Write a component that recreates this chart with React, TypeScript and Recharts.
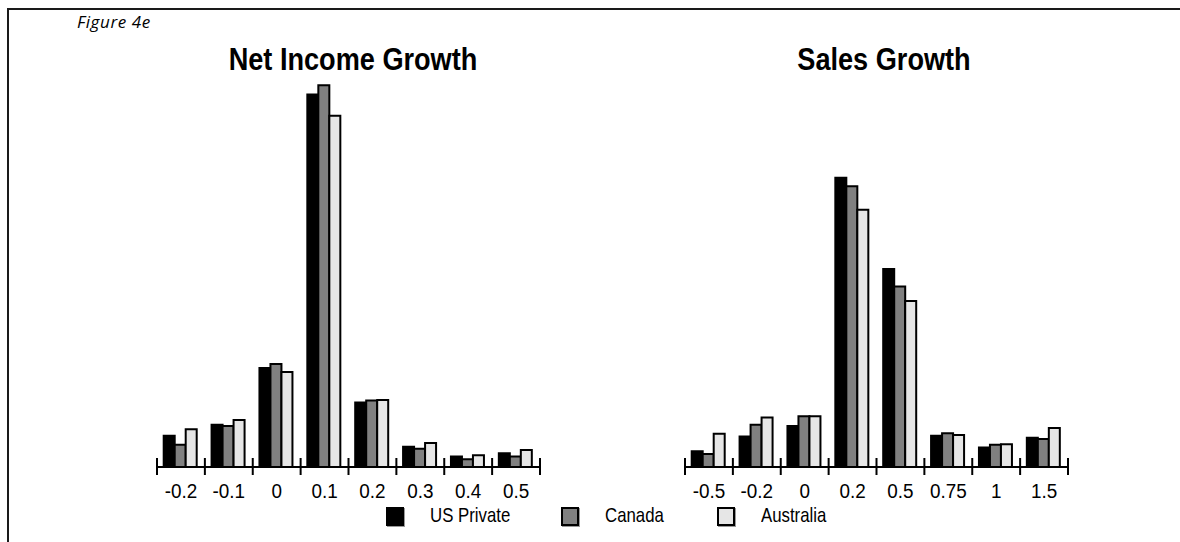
import { BarChart, Bar, XAxis, YAxis } from 'recharts';

const NET_CATEGORIES = ['-0.2', '-0.1', '0', '0.1', '0.2', '0.3', '0.4', '0.5'];
const NET_US = [4.8, 6.5, 15.2, 57.2, 9.9, 3.1, 1.6, 2.1];
const NET_CANADA = [3.4, 6.3, 15.8, 58.6, 10.2, 2.8, 1.2, 1.6];
const NET_AUSTRALIA = [5.8, 7.2, 14.6, 53.9, 10.3, 3.7, 1.8, 2.6];

const SALES_CATEGORIES = ['-0.5', '-0.2', '0', '0.2', '0.5', '0.75', '1', '1.5'];
const SALES_US = [2.4, 4.7, 6.3, 44.4, 30.4, 4.8, 3.0, 4.5];
const SALES_CANADA = [2.0, 6.5, 7.8, 43.1, 27.7, 5.2, 3.4, 4.3];
const SALES_AUSTRALIA = [5.1, 7.6, 7.8, 39.5, 25.5, 4.9, 3.5, 6.0];

const SERIES = [
  { key: 'us', name: 'US Private', fill: '#000000' },
  { key: 'canada', name: 'Canada', fill: '#808080' },
  { key: 'australia', name: 'Australia', fill: '#e6e6e6' },
];

const Y_MAX = 59.1;
// no narrow face installed, so Liberation Sans gets squeezed horizontally
const SANS = '"Liberation Sans", Arial, sans-serif';

// chart box / margins (plot area 383 x 385)
const CHART_W = 460;
const CHART_H = 467;
const MARGIN = { top: 42, right: 40, bottom: 0, left: 37 };
const PLOT_W = CHART_W - MARGIN.left - MARGIN.right;

function buildRows(cats: string[], us: number[], ca: number[], au: number[]) {
  return cats.map((cat, i) => ({ cat, us: us[i], canada: ca[i], australia: au[i] }));
}

const BoundaryTick = (props: any) => {
  const { x, y, payload, index, visibleTicksCount } = props;
  const half = payload && payload.offset ? payload.offset : PLOT_W / 16;
  const last = index === visibleTicksCount - 1;
  return (
    <g>
      <line x1={x - half} x2={x - half} y1={y - 9} y2={y + 8} stroke="#000" strokeWidth={2} />
      {last && <line x1={x + half} x2={x + half} y1={y - 9} y2={y + 8} stroke="#000" strokeWidth={2} />}
      <text
        transform={`translate(${x} ${y + 31}) scale(0.9 1)`}
        x={0}
        y={0}
        textAnchor="middle"
        fill="#000"
        fontFamily={SANS}
        fontSize={21}
      >
        {payload.value}
      </text>
    </g>
  );
};

function GrowthChart({ title, rows, left, titleCenter }: { title: string; rows: any[]; left: number; titleCenter: number }) {
  return (
    <>
      <div
        style={{
          position: 'absolute',
          left: titleCenter - 200,
          top: 44,
          width: 400,
          textAlign: 'center',
          fontFamily: SANS,
          fontWeight: 'bold',
          fontSize: 31,
          lineHeight: '31px',
          color: '#000',
          transform: 'scaleX(0.875)',
          transformOrigin: 'center',
        }}
      >
        {title}
      </div>
      <div style={{ position: 'absolute', left, top: 40 }}>
        <BarChart width={CHART_W} height={CHART_H} data={rows} margin={MARGIN} barCategoryGap="14%" barGap={0}>
          <XAxis
            xAxisId="top"
            orientation="top"
            dataKey="cat"
            height={0}
            tick={false}
            tickLine={false}
            axisLine={{ stroke: '#000', strokeWidth: 2 }}
          />
          <XAxis
            xAxisId="bottom"
            dataKey="cat"
            height={40}
            tickSize={0}
            tickMargin={0}
            tickLine={false}
            interval={0}
            tick={BoundaryTick}
            axisLine={{ stroke: '#000', strokeWidth: 2 }}
          />
          <YAxis
            yAxisId="l"
            domain={[0, Y_MAX]}
            width={0}
            tick={false}
            tickLine={false}
            axisLine={{ stroke: '#000', strokeWidth: 2 }}
          />
          <YAxis
            yAxisId="r"
            orientation="right"
            domain={[0, Y_MAX]}
            width={0}
            tick={false}
            tickLine={false}
            axisLine={{ stroke: '#000', strokeWidth: 2 }}
          />
          {SERIES.map((s) => (
            <Bar
              key={s.key}
              xAxisId="bottom"
              yAxisId="l"
              dataKey={s.key}
              name={s.name}
              fill={s.fill}
              stroke="#000"
              strokeWidth={2}
              isAnimationActive={false}
            />
          ))}
        </BarChart>
      </div>
    </>
  );
}

const LEGEND_X = [386, 561, 717];

export default function App() {
  const netRows = buildRows(NET_CATEGORIES, NET_US, NET_CANADA, NET_AUSTRALIA);
  const salesRows = buildRows(SALES_CATEGORIES, SALES_US, SALES_CANADA, SALES_AUSTRALIA);

  return (
    <div style={{ position: 'absolute', left: 0, top: 0, width: 1180, height: 542, background: '#fff', overflow: 'hidden' }}>
      {/* page frame */}
      <div
        style={{
          position: 'absolute',
          left: 7,
          top: 8,
          width: 1200,
          height: 600,
          borderTop: '2px solid #1a1a1a',
          borderLeft: '2px solid #1a1a1a',
        }}
      />
      <div
        style={{
          position: 'absolute',
          left: 77,
          top: 11,
          fontFamily: '"Open Sans", "DejaVu Sans", sans-serif',
          fontStyle: 'italic',
          fontSize: 17,
          letterSpacing: 0.6,
          lineHeight: '22px',
          color: '#000',
        }}
      >
        Figure 4e
      </div>

      <GrowthChart title="Net Income Growth" rows={netRows} left={120} titleCenter={353} />
      <GrowthChart title="Sales Growth" rows={salesRows} left={648} titleCenter={884} />

      {SERIES.map((s, i) => (
        <div key={s.key}>
          <div
            style={{
              position: 'absolute',
              left: LEGEND_X[i],
              top: 507,
              width: 14,
              height: 15,
              background: s.fill,
              border: '2px solid #000',
              boxShadow: '1px 1px 0 #999',
            }}
          />
          <div
            style={{
              position: 'absolute',
              left: LEGEND_X[i] + 44,
              top: 503,
              fontFamily: SANS,
              fontSize: 21,
              lineHeight: '24px',
              color: '#000',
              transform: 'scaleX(0.8)',
              transformOrigin: 'left center',
              whiteSpace: 'nowrap',
            }}
          >
            {s.name}
          </div>
        </div>
      ))}
    </div>
  );
}
